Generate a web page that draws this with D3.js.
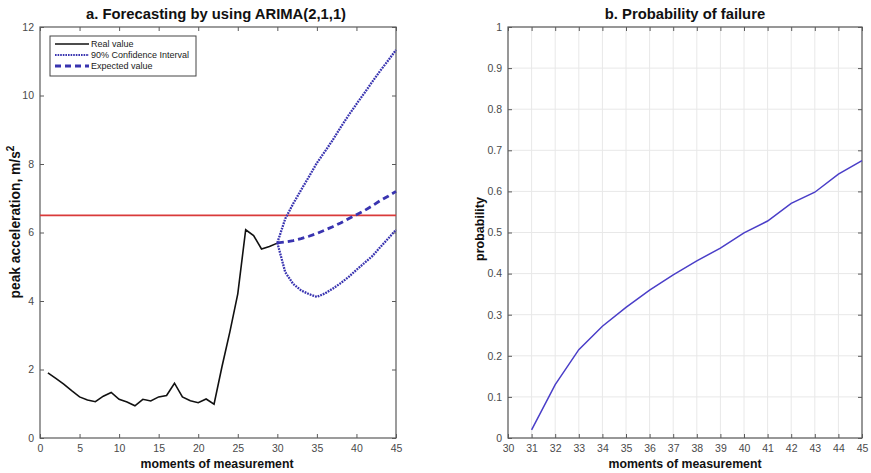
<!DOCTYPE html>
<html><head><meta charset="utf-8">
<script src="https://cdn.jsdelivr.net/npm/d3@7"></script>
<style>body{margin:0;background:#fff}svg{font-family:"Liberation Sans",Arial,sans-serif}</style>
</head><body>
<svg id="c" width="871" height="473"></svg>
<script>
// ---- data ----
const realX = d3.range(1, 31);
const realY = [1.90,1.74,1.57,1.38,1.20,1.11,1.06,1.22,1.33,1.13,1.05,0.94,1.13,1.08,1.20,1.24,1.60,1.20,1.09,1.03,1.14,0.99,2.08,3.10,4.21,6.08,5.91,5.52,5.59,5.69];
const fcX = d3.range(30, 46);
const expectedY = [5.70,5.72,5.76,5.82,5.89,5.97,6.07,6.17,6.28,6.40,6.52,6.64,6.78,6.93,7.06,7.20];
const upperY = [5.70,6.40,6.84,7.24,7.63,8.03,8.36,8.70,9.07,9.42,9.75,10.07,10.40,10.72,11.02,11.33];
const lowerY = [5.70,4.84,4.50,4.31,4.20,4.12,4.22,4.36,4.52,4.70,4.91,5.11,5.31,5.57,5.82,6.08];
const threshold = 6.5;
const probX = d3.range(31, 46);
const probY = [0.02,0.13,0.215,0.272,0.318,0.36,0.397,0.431,0.462,0.499,0.528,0.571,0.598,0.642,0.675];
const leftXTicks = d3.range(0, 46, 5);
const leftYTicks = d3.range(0, 13, 2);
const rightXTicks = d3.range(30, 46, 1);
const rightYTicks = d3.range(0, 11).map(d => d / 10);
const legendItems = ["Real value", "90% Confidence Interval", "Expected value"];

const svg = d3.select("#c");
const topY = 27, bottomY = 438;
const axisCol = "#5a5a5a", tickTxt = "#4a4a4a";
const blue = "#3934b0";

function frame(g, x, y, xt, yt, fmtY, grid) {
  const [x0, x1] = x.range(), [y0, y1] = y.range();
  if (grid) {
    g.selectAll(".gx").data(xt).join("line").attr("x1", d => x(d)).attr("x2", d => x(d))
      .attr("y1", y1).attr("y2", y0).attr("stroke", "#e8e8e8").attr("stroke-width", 1);
    g.selectAll(".gy").data(yt).join("line").attr("y1", d => y(d)).attr("y2", d => y(d))
      .attr("x1", x0).attr("x2", x1).attr("stroke", "#e8e8e8").attr("stroke-width", 1);
  }
  const ax = g.append("g").attr("transform", `translate(0,${y0})`)
    .call(d3.axisBottom(x).tickValues(xt).tickSize(-4).tickPadding(7).tickFormat(d3.format("d")));
  const axT = g.append("g").attr("transform", `translate(0,${y1})`)
    .call(d3.axisTop(x).tickValues(xt).tickSize(-4).tickFormat(""));
  const ay = g.append("g").attr("transform", `translate(${x0},0)`)
    .call(d3.axisLeft(y).tickValues(yt).tickSize(-4).tickPadding(6).tickFormat(fmtY));
  const ayR = g.append("g").attr("transform", `translate(${x1},0)`)
    .call(d3.axisRight(y).tickValues(yt).tickSize(-4).tickFormat(""));
  [ax, axT, ay, ayR].forEach(a => {
    a.select(".domain").remove();
    a.selectAll(".tick line").attr("stroke", axisCol);
    a.selectAll(".tick text").attr("fill", tickTxt).style("font-size", "10.5px");
  });
  g.append("rect").attr("x", x0).attr("y", y1).attr("width", x1 - x0).attr("height", y0 - y1)
    .attr("fill", "none").attr("stroke", axisCol).attr("stroke-width", 1.2);
}

// ---- left chart ----
const xL = d3.scaleLinear().domain([0, 45]).range([40, 396]);
const yL = d3.scaleLinear().domain([0, 12]).range([bottomY, topY]);
const gL = svg.append("g");
frame(gL, xL, yL, leftXTicks, leftYTicks, d3.format("d"), false);
const lineL = (xs, ys) => d3.line().x((d, i) => xL(xs[i])).y(d => yL(d))(ys);
gL.append("line").attr("x1", xL(0)).attr("x2", xL(45)).attr("y1", yL(threshold)).attr("y2", yL(threshold))
  .attr("stroke", "#d93a3a").attr("stroke-width", 1.6);
gL.append("path").attr("d", lineL(realX, realY)).attr("fill", "none").attr("stroke", "#111").attr("stroke-width", 1.6);
gL.append("path").attr("d", lineL(fcX, upperY)).attr("fill", "none").attr("stroke", blue).attr("stroke-width", 2.3).attr("stroke-dasharray", "1.8,1");
gL.append("path").attr("d", lineL(fcX, lowerY)).attr("fill", "none").attr("stroke", blue).attr("stroke-width", 2.3).attr("stroke-dasharray", "1.8,1");
gL.append("path").attr("d", lineL(fcX, expectedY)).attr("fill", "none").attr("stroke", blue).attr("stroke-width", 2.8).attr("stroke-dasharray", "6.5,4");

// legend
const lg = gL.append("g");
lg.append("rect").attr("x", 50).attr("y", 36).attr("width", 146).attr("height", 40).attr("fill", "#fff").attr("stroke", "#444").attr("stroke-width", 1);
const styles = [
  {c: "#111", w: 1.6, dash: null},
  {c: blue, w: 2.2, dash: "1.6,1"},
  {c: blue, w: 2.8, dash: "6,4"}
];
legendItems.forEach((t, i) => {
  const yy = 44 + i * 11;
  lg.append("line").attr("x1", 55).attr("x2", 89).attr("y1", yy).attr("y2", yy)
    .attr("stroke", styles[i].c).attr("stroke-width", styles[i].w).attr("stroke-dasharray", styles[i].dash);
  lg.append("text").attr("x", 91).attr("y", yy + 3.2).text(t).style("font-size", "9px").attr("fill", "#222");
});

gL.append("text").attr("x", 216).attr("y", 19).attr("text-anchor", "middle")
  .style("font-size", "14.8px").style("font-weight", "bold").attr("fill", "#111").text("a. Forecasting by using ARIMA(2,1,1)");
gL.append("text").attr("x", 217).attr("y", 468).attr("text-anchor", "middle")
  .style("font-size", "12.3px").style("font-weight", "bold").attr("fill", "#111").text("moments of measurement");
const yl = gL.append("text").attr("transform", "translate(20,222) rotate(-90)").attr("text-anchor", "middle")
  .style("font-size", "13.8px").style("font-weight", "bold").attr("fill", "#111");
yl.append("tspan").text("peak acceleration, m/s");
yl.append("tspan").text("2").attr("dy", -6).style("font-size", "10px");

// ---- right chart ----
const xR = d3.scaleLinear().domain([30, 45]).range([508, 862]);
const yR = d3.scaleLinear().domain([0, 1]).range([bottomY, topY]);
const gR = svg.append("g");
frame(gR, xR, yR, rightXTicks, rightYTicks, d => d === 0 ? "0" : d === 1 ? "1" : d3.format(".1f")(d), true);
gR.append("path").attr("d", d3.line().x((d, i) => xR(probX[i])).y(d => yR(d))(probY))
  .attr("fill", "none").attr("stroke", "#4a3ec8").attr("stroke-width", 1.5);
gR.append("text").attr("x", 685).attr("y", 19).attr("text-anchor", "middle")
  .style("font-size", "14.8px").style("font-weight", "bold").attr("fill", "#111").text("b. Probability of failure");
gR.append("text").attr("x", 685).attr("y", 468).attr("text-anchor", "middle")
  .style("font-size", "12.3px").style("font-weight", "bold").attr("fill", "#111").text("moments of measurement");
gR.append("text").attr("transform", "translate(484,229) rotate(-90)").attr("text-anchor", "middle")
  .style("font-size", "12.5px").style("font-weight", "bold").attr("fill", "#111").text("probability");
</script>
</body></html>
